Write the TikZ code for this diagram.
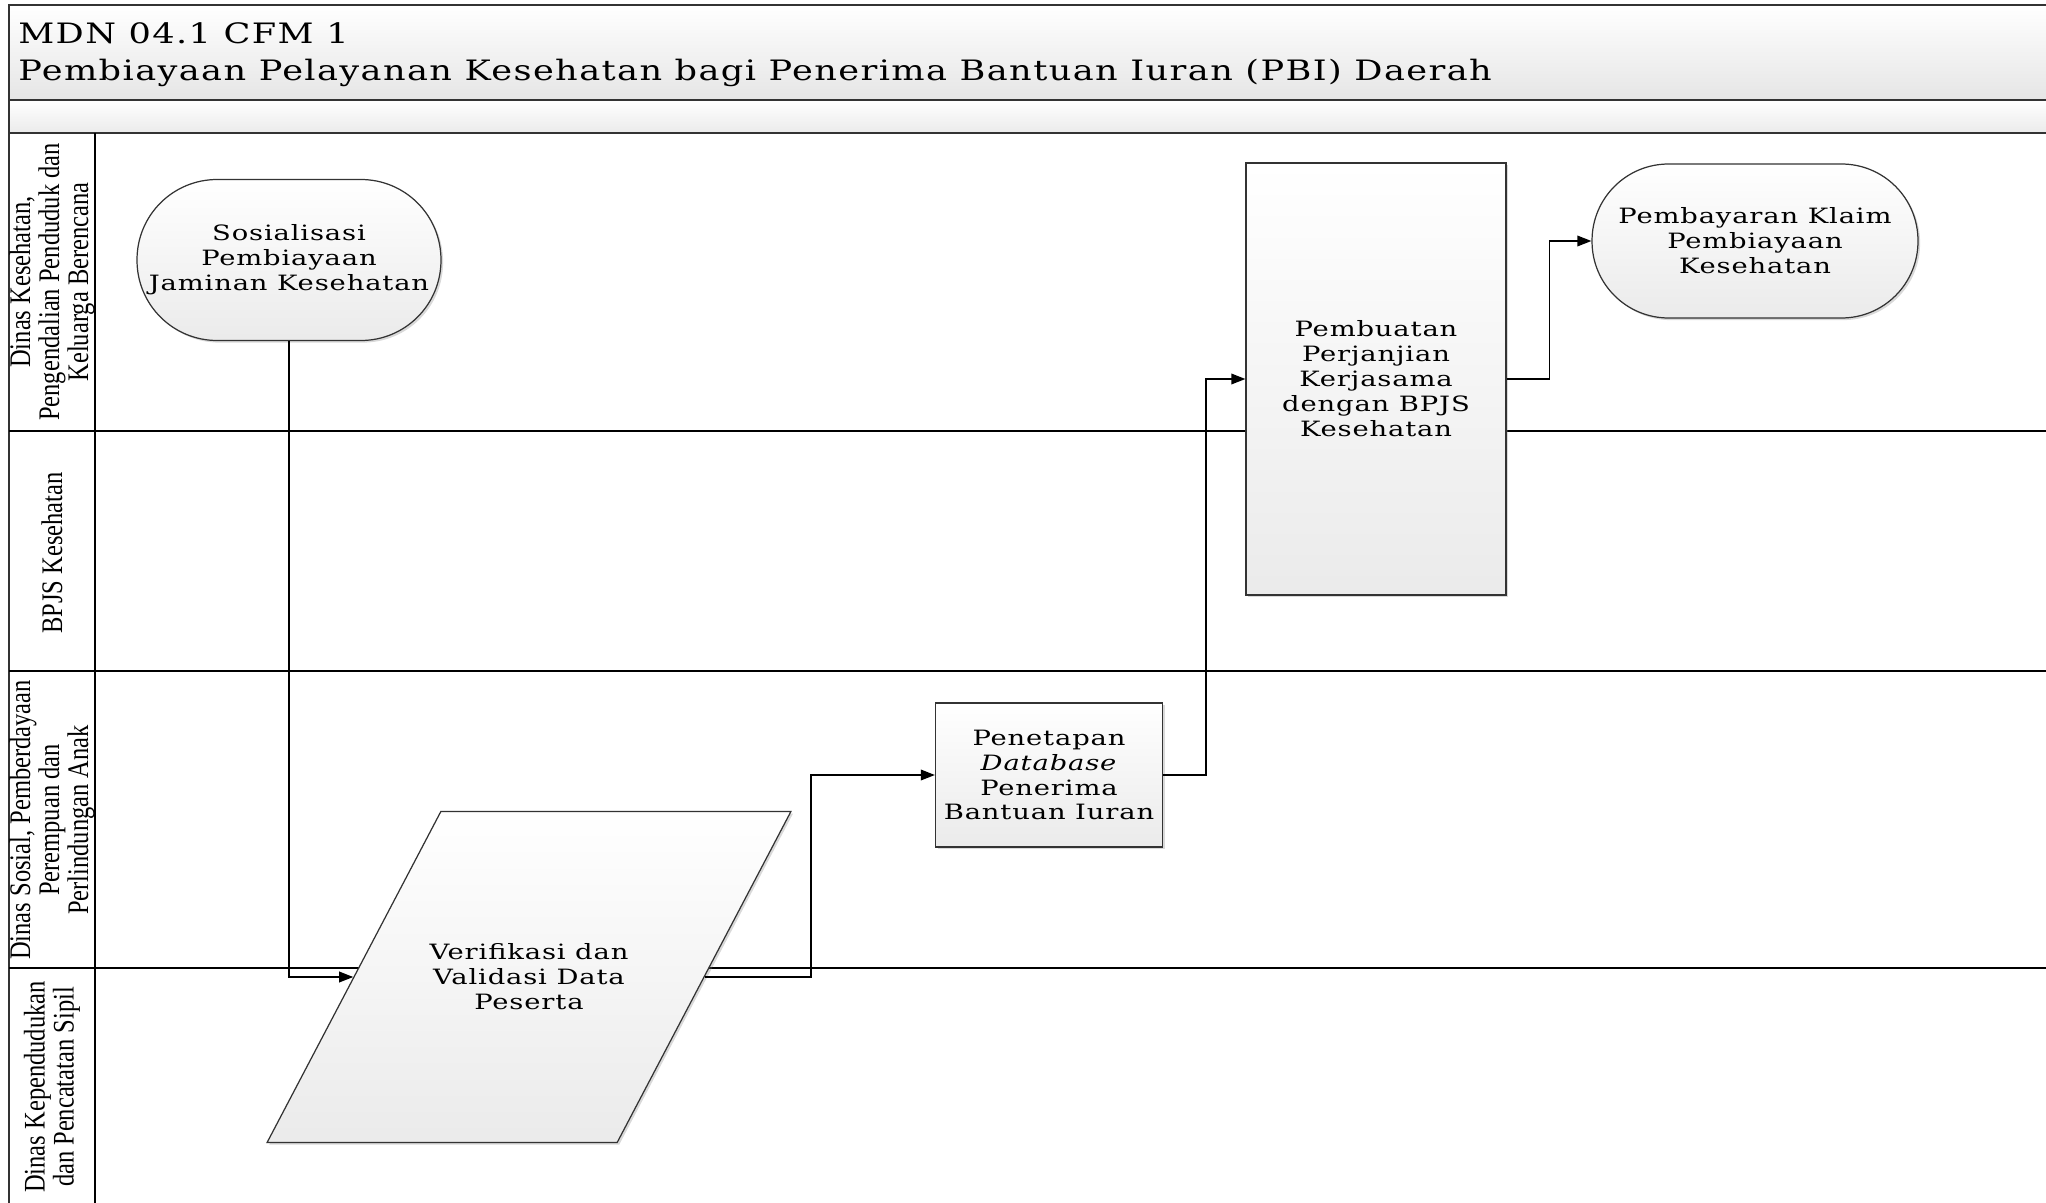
\documentclass[tikz,border=0pt]{standalone}
\usepackage{fontspec}
\usepackage{tikz}
\usetikzlibrary{shapes.geometric,shadows,arrows.meta}

\newfontfamily\kotakfont{DejaVu Serif}[FakeStretch=1.3,LetterSpace=4]
\newfontfamily\judulfont{DejaVu Serif}[FakeStretch=1.25,LetterSpace=5]
\newfontfamily\lajurfont{Liberation Serif}[FakeStretch=0.82]

\tikzset{
  bentuk/.style={draw=black!80, line width=0.7pt, top color=white, bottom color=black!8,
    drop shadow={shadow xshift=1.2pt, shadow yshift=-1.2pt, opacity=0.3},
    align=center, inner sep=2pt, font=\kotakfont\fontsize{12}{14.2}\selectfont},
  lajur/.style={rotate=90, align=center, inner sep=0pt,
    font=\lajurfont\fontsize{17}{16.5}\selectfont},
  garis/.style={line width=1pt},
  alur/.style={-{Triangle[length=8pt,width=6pt]}, line width=1pt}
}

\begin{document}
\begin{tikzpicture}[x=0.02cm, y=-0.02cm]
\useasboundingbox (0,0) rectangle (2046,1203);
\clip (0,0) rectangle (2046,1203);

% judul
\shade[top color=white, bottom color=black!10] (9,5) rectangle (2070,100);
\shade[top color=white, bottom color=black!8] (9,100) rectangle (2070,133);
\draw[draw=black!80, line width=1.5pt] (9,1230) -- (9,5) -- (2070,5);
\draw[draw=black!80, line width=1.5pt] (9,100) -- (2070,100);
\draw[draw=black!80, line width=1.2pt] (9,133) -- (2070,133);
\node[anchor=north west, align=left, inner sep=0pt,
      font=\judulfont\fontsize{16}{21}\selectfont] (judul) at (18,22)
  {MDN 04.1 CFM 1\\Pembiayaan Pelayanan Kesehatan bagi Penerima Bantuan Iuran (PBI) Daerah};

% lajur
\draw[garis] (95,133) -- (95,1230);
\foreach \y in {431,671,968}
  \draw[garis] (9,\y) -- (2070,\y);
\node[lajur] (lajur1) at (52,282) {Dinas Kesehatan,\\Pengendalian Penduduk dan\\Keluarga Berencana};
\node[lajur] (lajur2) at (52,553) {BPJS Kesehatan};
\node[lajur] (lajur3) at (52,820) {Dinas Sosial, Pemberdayaan\\Perempuan dan\\Perlindungan Anak};
\node[lajur] (lajur4) at (52,1087) {Dinas Kependudukan\\dan Pencatatan Sipil};

% proses
\node[bentuk, minimum width=6.08cm, minimum height=3.22cm, rounded corners=1.6cm]
  (sosialisasi) at (289,260) {Sosialisasi\\Pembiayaan\\Jaminan Kesehatan};
\node[bentuk, trapezium, trapezium left angle=62.3, trapezium right angle=117.7,
      trapezium stretches body=true, minimum width=10.48cm, inner xsep=-0.3cm, inner ysep=2.65cm]
  (verif) at (529,977) {Verifikasi dan\\Validasi Data\\Peserta};
\node[bentuk, minimum width=4.54cm, minimum height=2.88cm]
  (penetapan) at (1049,775) {Penetapan\\\textit{Database}\\Penerima\\Bantuan Iuran};
\node[bentuk, minimum width=5.2cm, minimum height=8.64cm]
  (kerjasama) at (1376,379) {Pembuatan\\Perjanjian\\Kerjasama\\dengan BPJS\\Kesehatan};
\node[bentuk, minimum width=6.52cm, minimum height=3.08cm, rounded corners=1.53cm]
  (klaim) at (1755,241) {Pembayaran Klaim\\Pembiayaan\\Kesehatan};

% alur
\draw[alur] (sosialisasi.south) |- (verif.west);
\draw[alur] (verif.east) -- ++(106,0) |- (penetapan.west);
\draw[alur] (penetapan.east) -- ++(43,0) |- (kerjasama.west);
\draw[alur] (kerjasama.east) -- ++(43,0) |- (klaim.west);
\end{tikzpicture}
\end{document}
